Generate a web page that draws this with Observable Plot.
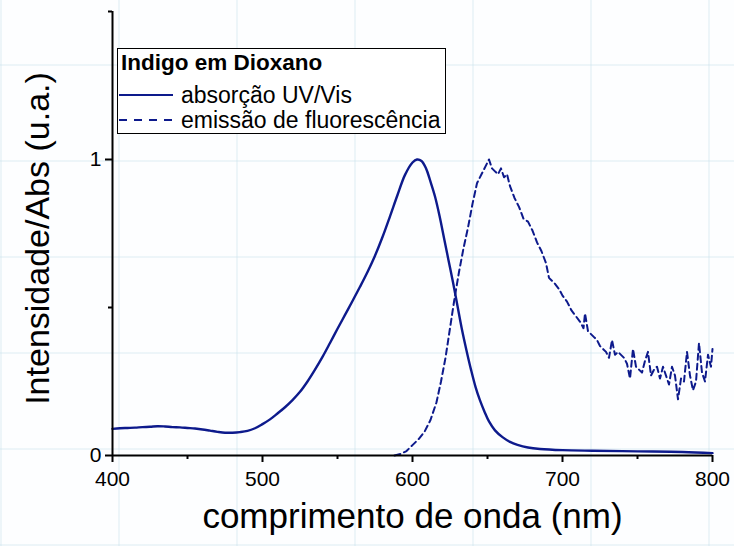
<!DOCTYPE html>
<html>
<head>
<meta charset="utf-8">
<script src="https://cdn.jsdelivr.net/npm/d3@7"></script>
<script src="https://cdn.jsdelivr.net/npm/@observablehq/plot@0.6"></script>
<style>
  html, body { margin: 0; padding: 0; }
  body {
    width: 734px; height: 546px; overflow: hidden; position: relative;
    font-family: "Liberation Sans", Arial, sans-serif;
    background-color: #fdfeff;
    background-image:
      repeating-linear-gradient(90deg, rgba(200,225,235,0.3) 0 2px, transparent 2px 118px),
      repeating-linear-gradient(0deg, rgba(200,225,235,0.3) 0 2px, transparent 2px 96px);
  }
  #chart { position: absolute; left: 0; top: 0; }
  #legend {
    position: absolute; left: 117px; top: 48px; width: 329px; height: 86px;
    border: 1px solid #000; background: #fff; box-sizing: border-box;
    font-size: 23px; color: #000;
  }
  #legend .title { position: absolute; left: 3px; top: 1px; font-weight: bold; font-size: 22.5px; }
  #legend .row { position: absolute; left: 1px; height: 26px; display: flex; align-items: center; white-space: nowrap; }
  #legend .row span { margin-left: 8px; }
</style>
</head>
<body>
<div id="chart"></div>
<div id="legend">
  <div class="title">Indigo em Dioxano</div>
  <div class="row" style="top:33px"><svg width="54" height="6"><line x1="0" x2="54" y1="3" y2="3" stroke="#0d1a8c" stroke-width="2.2"/></svg><span>absorção UV/Vis</span></div>
  <div class="row" style="top:58px"><svg width="54" height="6"><line x1="0" x2="54" y1="3" y2="3" stroke="#0d1a8c" stroke-width="2.2" stroke-dasharray="8,7"/></svg><span>emissão de fluorescência</span></div>
</div>
<script>
// Absorption spectrum (wavelength nm, normalized absorbance)
const absWl  = [400,405,410,415,420,425,430,435,440,445,450,455,460,465,470,475,480,485,490,495,500,505,510,515,520,525,530,535,540,545,550,555,560,565,570,575,580,585,590,595,600,603,606,609,612,615,618,621,624,627,630,633,636,639,642,645,648,651,655,660,665,670,677,685,700,720,750,780,800];
const absVal = [0.090,0.092,0.093,0.094,0.096,0.097,0.099,0.098,0.096,0.095,0.093,0.091,0.088,0.084,0.080,0.077,0.077,0.079,0.083,0.092,0.106,0.122,0.142,0.163,0.187,0.215,0.250,0.290,0.333,0.380,0.428,0.475,0.522,0.570,0.620,0.675,0.738,0.808,0.880,0.948,0.990,1.000,0.995,0.970,0.925,0.875,0.810,0.735,0.660,0.585,0.505,0.425,0.355,0.290,0.232,0.186,0.148,0.115,0.085,0.062,0.046,0.036,0.027,0.022,0.018,0.016,0.014,0.012,0.008];

// Fluorescence emission (wavelength nm, normalized intensity)
const emWl  = [588,592,596,600,604,608,612,616,619,622,625,628,631,634,637,640,643,646,649,651,653,655,657,659,661,663,665,668,671,674,677,680,683,686,689,691,693,695,698,700,703,706,709,712,714,715,717,719,721,723,725,727,729,731,733,735,737,739,741,743,745,747,749,751,753,755,757,759,761,763,765,767,769,771,773,775,777,779,781,783,785,787,789,791,793,795,797,799,800];
const emVal = [0.000,0.005,0.015,0.035,0.055,0.080,0.120,0.180,0.250,0.330,0.430,0.530,0.620,0.700,0.770,0.850,0.920,0.950,0.980,1.000,0.970,0.960,0.950,0.970,0.940,0.950,0.910,0.870,0.840,0.800,0.790,0.760,0.720,0.690,0.650,0.600,0.590,0.580,0.560,0.540,0.520,0.490,0.470,0.450,0.430,0.480,0.420,0.410,0.400,0.390,0.370,0.360,0.350,0.330,0.390,0.340,0.350,0.340,0.330,0.310,0.260,0.360,0.300,0.290,0.280,0.320,0.350,0.270,0.290,0.300,0.260,0.300,0.270,0.240,0.300,0.270,0.190,0.260,0.250,0.350,0.270,0.220,0.250,0.380,0.280,0.250,0.340,0.300,0.360];

const xMajor = [400,500,600,700,800];
const xMinor = [450,550,650,750];
const yMajor = [0,1];
const yMinor = [0.5,1.5];

const absData = absWl.map((w,i) => ({w, v: absVal[i]}));
const emData  = emWl.map((w,i) => ({w, v: emVal[i]}));
const color = "#0d1a8c";

const chart = Plot.plot({
  width: 734, height: 546,
  marginLeft: 112, marginRight: 22, marginTop: 11, marginBottom: 91,
  style: {background: "transparent", fontFamily: "Liberation Sans, Arial, sans-serif", color: "#000"},
  x: {domain: [400, 800]},
  y: {domain: [0, 1.5]},
  marks: [
    Plot.line(emData, {x: "w", y: "v", stroke: color, strokeWidth: 2, strokeDasharray: "6,4"}),
    Plot.line(absData, {x: "w", y: "v", stroke: color, strokeWidth: 2.4, curve: "catmull-rom"}),
    Plot.ruleX([400], {stroke: "#000", strokeWidth: 2}),
    Plot.ruleY([0], {stroke: "#000", strokeWidth: 2}),
    Plot.axisX({ticks: xMajor, tickSize: 7, tickPadding: 9, fontSize: 21, label: null, tickFormat: d => d}),
    Plot.axisX({ticks: xMinor, tickSize: 4, tickFormat: () => "", label: null}),
    Plot.axisY({ticks: yMajor, tickSize: 7, tickPadding: 4, fontSize: 21, label: null, tickFormat: d => d}),
    Plot.axisY({ticks: yMinor, tickSize: 4, tickFormat: () => "", label: null}),
    Plot.text(["comprimento de onda (nm)"], {frameAnchor: "bottom", dy: 72, fontSize: 35, text: d => d}),
    Plot.text(["Intensidade/Abs (u.a.)"], {frameAnchor: "left", textAnchor: "middle", dx: -74, dy: 5, rotate: -90, fontSize: 34, text: d => d})
  ]
});
chart.querySelectorAll("g[aria-label='x-axis tick'], g[aria-label='y-axis tick']").forEach(g => g.setAttribute("stroke-width", "2"));
document.getElementById("chart").appendChild(chart);
</script>
</body>
</html>
